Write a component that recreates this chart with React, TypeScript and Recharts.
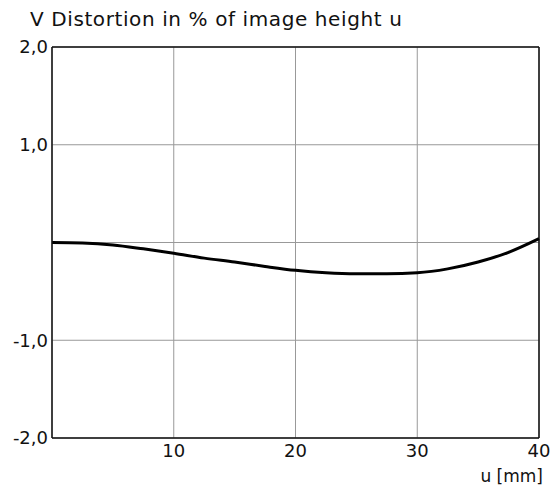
import { CartesianGrid, Line, LineChart, ReferenceLine, XAxis, YAxis } from "recharts";

const uMm = [0, 2.5, 5, 7.5, 10, 12.5, 15, 17.5, 20, 22.5, 25, 27.5, 30, 32.5, 35, 37.5, 40];
const distortion = [0, -0.005, -0.025, -0.065, -0.11, -0.16, -0.2, -0.245, -0.285, -0.31, -0.32, -0.32, -0.31, -0.27, -0.2, -0.1, 0.04];
const xTicks = [0, 10, 20, 30, 40];
const yTicks = [-2, -1, 0, 1, 2];

const data = uMm.map((u, i) => ({ u, v: distortion[i] }));

const font = "'DejaVu Sans', sans-serif";

export default function App() {
  return (
    <div style={{ position: "absolute", left: 0, top: 0, width: 552, height: 488, background: "#fff", fontFamily: font }}>
      <div style={{ position: "absolute", left: 30, top: 7, fontSize: 20, letterSpacing: 0.6, color: "#111", whiteSpace: "nowrap" }}>
        V Distortion in % of image height u
      </div>
      <LineChart width={552} height={488} data={data} margin={{ top: 47, right: 13, left: 0, bottom: 0 }}>
        <CartesianGrid stroke="#999" strokeWidth={1} />
        <XAxis
          dataKey="u"
          type="number"
          domain={[0, 40]}
          ticks={xTicks}
          tickFormatter={(v: number) => (v === 0 ? "" : String(v))}
          height={50}
          tickLine={false}
          axisLine={{ stroke: "#111", strokeWidth: 1.5 }}
          tick={{ fill: "#111", fontSize: 18, fontFamily: font }}
          tickSize={4}
          tickMargin={2}
        />
        <YAxis
          type="number"
          domain={[-2, 2]}
          ticks={yTicks}
          tickFormatter={(v: number) => (v === 0 ? "" : v.toFixed(1).replace(".", ","))}
          width={52}
          tickLine={false}
          axisLine={{ stroke: "#111", strokeWidth: 1.5 }}
          tick={{ fill: "#111", fontSize: 18, fontFamily: font }}
          tickSize={3}
          tickMargin={1}
        />
        <ReferenceLine y={2} stroke="#111" strokeWidth={1.5} />
        <ReferenceLine x={40} stroke="#111" strokeWidth={1.5} />
        <Line dataKey="v" type="monotone" stroke="#000" strokeWidth={3} dot={false} isAnimationActive={false} />
      </LineChart>
      <div style={{ position: "absolute", right: 9, top: 466, fontSize: 17, color: "#111", whiteSpace: "nowrap" }}>
        u [mm]
      </div>
    </div>
  );
}
